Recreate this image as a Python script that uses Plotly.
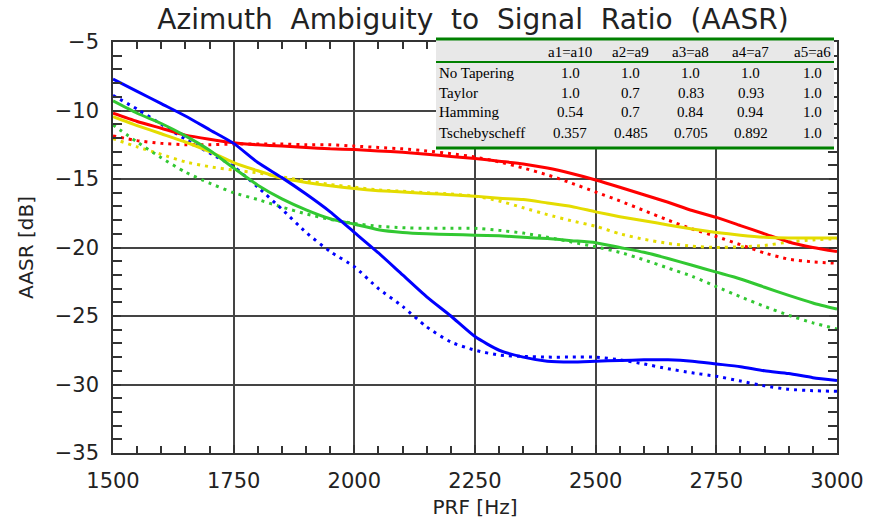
import plotly.graph_objects as go

# PRF sampling grid [Hz]
prf = [1500, 1550, 1600, 1650, 1700, 1750, 1800, 1850, 1900, 1950,
       2000, 2050, 2100, 2150, 2200, 2250, 2300, 2350, 2400, 2450,
       2500, 2550, 2600, 2650, 2700, 2750, 2800, 2850, 2900, 2950, 3000]

# AASR curves [dB]
red_solid = [-10.2, -10.8, -11.3, -11.8, -12.1, -12.35, -12.5, -12.6, -12.7, -12.8,
             -12.85, -12.95, -13.05, -13.2, -13.35, -13.5, -13.7, -13.9, -14.2, -14.6,
             -15.07, -15.6, -16.15, -16.7, -17.3, -17.8, -18.4, -19.0, -19.6, -20.0, -20.3]
red_dotted = [-11.85, -12.2, -12.4, -12.5, -12.5, -12.45, -12.45, -12.45, -12.5, -12.5,
              -12.6, -12.7, -12.8, -12.95, -13.15, -13.4, -13.75, -14.2, -14.7, -15.3,
              -15.95, -16.6, -17.3, -18.0, -18.65, -19.2, -19.8, -20.4, -20.85, -21.05, -21.15]
yellow_solid = [-10.45, -11.1, -11.7, -12.3, -13.0, -13.8, -14.4, -14.95, -15.25, -15.5,
                -15.7, -15.85, -15.95, -16.05, -16.15, -16.25, -16.4, -16.5, -16.75, -17.0,
                -17.4, -17.75, -18.05, -18.35, -18.65, -18.9, -19.1, -19.25, -19.3, -19.3, -19.3]
yellow_dotted = [-12.05, -12.65, -13.2, -13.75, -14.1, -14.35, -14.55, -14.85, -15.15, -15.4,
                 -15.6, -15.8, -15.9, -16.0, -16.1, -16.25, -16.6, -17.1, -17.6, -18.05,
                 -18.45, -19.0, -19.4, -19.7, -19.9, -20.0, -19.95, -19.85, -19.6, -19.45, -19.35]
green_solid = [-9.3, -10.2, -10.95, -11.85, -12.9, -14.2, -15.45, -16.45, -17.25, -17.9,
               -18.3, -18.7, -18.9, -19.0, -19.05, -19.1, -19.15, -19.25, -19.35, -19.5,
               -19.65, -20.0, -20.35, -20.8, -21.3, -21.8, -22.3, -22.9, -23.5, -24.05, -24.5]
green_dotted = [-11.05, -12.3, -13.45, -14.5, -15.3, -16.0, -16.5, -17.05, -17.55, -17.95,
                -18.25, -18.45, -18.55, -18.6, -18.6, -18.6, -18.75, -18.95, -19.25, -19.6,
                -19.95, -20.35, -20.9, -21.5, -22.1, -22.85, -23.6, -24.3, -24.95, -25.5, -25.95]
blue_solid = [-7.7, -8.6, -9.5, -10.4, -11.4, -12.4, -13.8, -14.9, -16.1, -17.4,
              -18.9, -20.4, -22.0, -23.6, -25.0, -26.5, -27.5, -28.0, -28.3, -28.35,
              -28.3, -28.25, -28.2, -28.2, -28.3, -28.5, -28.7, -29.0, -29.2, -29.5, -29.7]
blue_dotted = [-8.9, -9.9, -11.0, -12.1, -13.1, -14.1, -15.6, -17.2, -18.9, -20.3,
               -21.4, -23.0, -24.3, -25.8, -26.9, -27.5, -27.85, -27.95, -28.0, -28.0,
               -28.0, -28.2, -28.5, -28.85, -29.15, -29.4, -29.75, -30.1, -30.35, -30.45, -30.5]

# Window coefficient table
table_header = ["", "a1=a10", "a2=a9", "a3=a8", "a4=a7", "a5=a6"]
table_rows = ["No Tapering", "Taylor", "Hamming", "Tschebyscheff"]
table_values = [
    ["1.0", "1.0", "1.0", "1.0", "1.0"],
    ["1.0", "0.7", "0.83", "0.93", "1.0"],
    ["0.54", "0.7", "0.84", "0.94", "1.0"],
    ["0.357", "0.485", "0.705", "0.892", "1.0"],
]

W, H = 871, 522
ML, MR, MT, MB = 113, 34, 42, 69
PW, PH = W - ML - MR, H - MT - MB


def px(x):
    return (x - ML) / PW


def py(y):
    return (H - MB - y) / PH


RED = "rgb(255,0,0)"
YELLOW = "rgb(228,220,0)"
GREEN = "rgb(50,200,50)"
BLUE = "rgb(0,0,255)"
DOT = "3px,5px"

fig = go.Figure()
series = [
    (red_dotted, RED, DOT), (yellow_dotted, YELLOW, DOT),
    (green_dotted, GREEN, DOT), (blue_dotted, BLUE, DOT),
    (red_solid, RED, "solid"), (yellow_solid, YELLOW, "solid"),
    (green_solid, GREEN, "solid"), (blue_solid, BLUE, "solid"),
]
for ys, col, dash in series:
    fig.add_trace(go.Scatter(
        x=prf, y=ys, mode="lines",
        line=dict(color=col, width=3, dash=dash, shape="spline", smoothing=0.6),
        showlegend=False, hoverinfo="skip"))

axis_font = dict(family="DejaVu Sans", size=21, color="#222")
title_font = dict(family="DejaVu Sans", size=20, color="#222")
common = dict(
    showline=True, linecolor="#333", linewidth=1.5, mirror="allticks",
    showgrid=True, gridcolor="#444", gridwidth=1.5,
    ticks="inside", ticklen=8, tickcolor="#333", tickwidth=1.5,
    tickfont=axis_font, zeroline=False, automargin=False,
)
fig.update_xaxes(
    range=[1500, 3000], tick0=1500, dtick=250,
    minor=dict(dtick=50, tick0=1500, ticks="inside", ticklen=7,
               tickcolor="#333", tickwidth=1.5, showgrid=False),
    title=dict(text="PRF [Hz]", font=title_font, standoff=8),
    ticklabelstandoff=8, **common)
fig.update_yaxes(
    range=[-35, -5], tick0=-35, dtick=5,
    minor=dict(dtick=1, tick0=-35, ticks="inside", ticklen=9,
               tickcolor="#333", tickwidth=1.5, showgrid=False),
    title=dict(text="AASR [dB]", font=title_font, standoff=16),
    ticklabelstandoff=8, **common)

# Coefficient table drawn on top of the plot area
x0, x1 = 436, 834
y_top, y_head, y_bot = 39, 62, 148
shapes = [
    dict(type="rect", xref="paper", yref="paper", x0=px(x0), x1=px(x1),
         y0=py(y_bot), y1=py(y_top), fillcolor="#e8e8e8", line=dict(width=0), layer="above"),
]
for yy, lw in [(y_top, 3), (y_head, 2), (y_bot, 3)]:
    shapes.append(dict(type="line", xref="paper", yref="paper", x0=px(x0), x1=px(x1),
                       y0=py(yy), y1=py(yy), line=dict(color="#008000", width=lw),
                       layer="above"))

tfont = dict(family="Liberation Serif", size=15, color="black")
col_x = [570, 630.5, 690.5, 750.5, 812]
row_y = [52, 73.3, 92.8, 112.5, 132.5]
ann = []
for j, h in enumerate(table_header[1:]):
    ann.append(dict(text=h, x=px(col_x[j]), y=py(row_y[0]), xref="paper", yref="paper",
                    showarrow=False, xanchor="center", yanchor="middle", font=tfont))
for i, name in enumerate(table_rows):
    ann.append(dict(text=name, x=px(437), y=py(row_y[i + 1]), xref="paper", yref="paper",
                    showarrow=False, xanchor="left", yanchor="middle", font=tfont))
    for j, v in enumerate(table_values[i]):
        ann.append(dict(text=v, x=px(col_x[j]), y=py(row_y[i + 1]), xref="paper",
                        yref="paper", showarrow=False, xanchor="center", yanchor="middle",
                        font=tfont))

title_text = "\u00a0 ".join("Azimuth Ambiguity to Signal Ratio (AASR)".split(" "))
fig.update_layout(
    width=W, height=H,
    margin=dict(l=ML, r=MR, t=MT, b=MB, pad=0),
    paper_bgcolor="white", plot_bgcolor="white",
    title=dict(text=title_text,
               x=473 / W, xanchor="center", y=1 - 19 / H, yanchor="middle",
               font=dict(family="DejaVu Sans", size=28, color="#222")),
    shapes=shapes, annotations=ann,
)

fig.write_html("out.html")
